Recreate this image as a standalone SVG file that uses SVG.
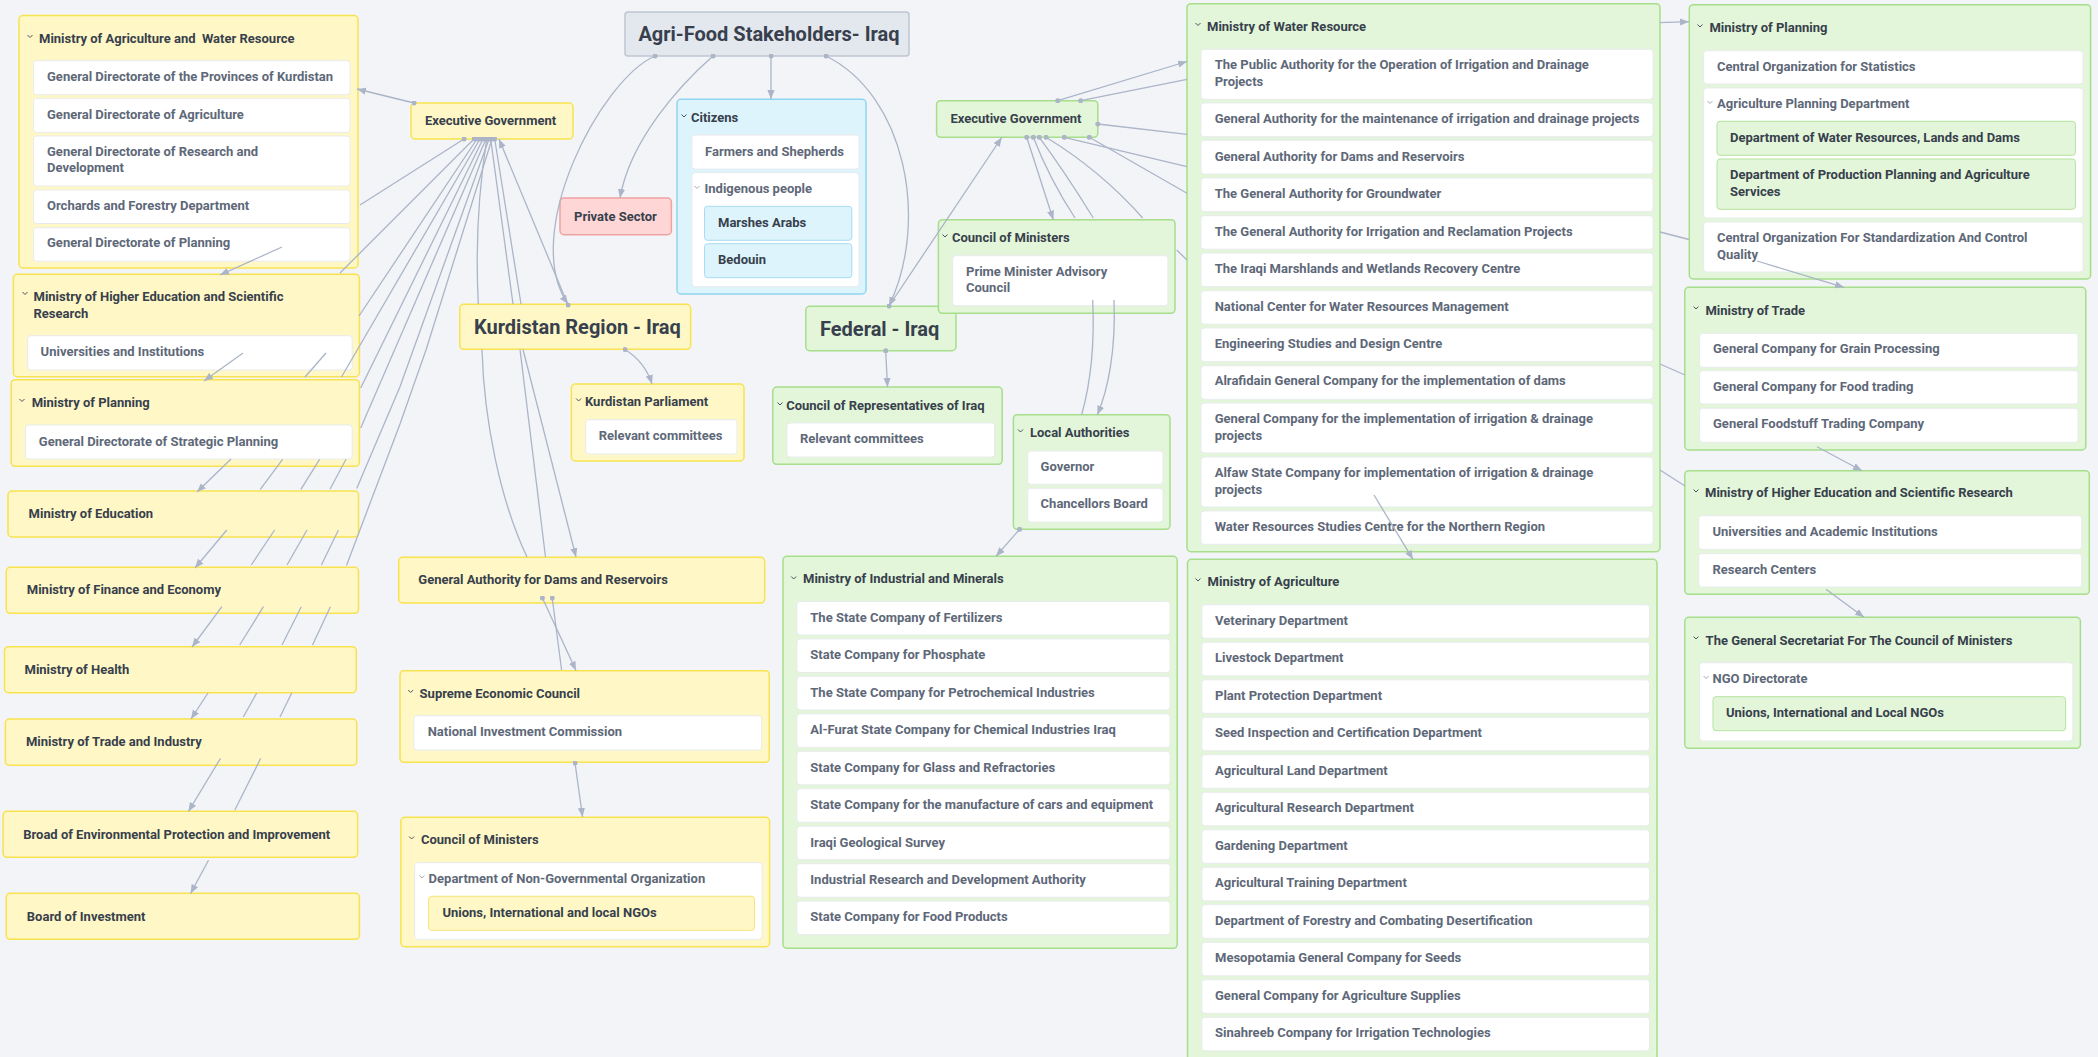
<svg xmlns="http://www.w3.org/2000/svg" width="2098" height="1057" viewBox="0 0 2098 1057">
<defs>
<style>
text{font-family:Roboto,"Liberation Sans",sans-serif;font-weight:700;font-size:13px}
.h{fill:#37404c}.i{fill:#5e6878}.big{font-size:20px;fill:#37404c}
.y{fill:#fff8c6;stroke:#f8e24e;stroke-width:1.5}
.g{fill:#e3f6d9;stroke:#a6de8b;stroke-width:1.5}
.b{fill:#ddf4fc;stroke:#8fd5f1;stroke-width:1.5}
.r{fill:#ffd6d6;stroke:#f0a1a1;stroke-width:1.5}
.t{fill:#e3e7ee;stroke:#bfc6d1;stroke-width:1.5}
.w{fill:#fff;stroke:#e8ebee;stroke-width:1}
.yi{fill:#fff8c6;stroke:#f6e37a;stroke-width:1}
.gi{fill:#e3f6d9;stroke:#b5e39f;stroke-width:1}
.bi{fill:#ddf4fc;stroke:#a6dcf1;stroke-width:1}
.ch{fill:none;stroke:#4b5361;stroke-width:1}
.cl{fill:none;stroke:#a3abb8;stroke-width:1}
.c{fill:none;stroke:#abb5c7;stroke-width:1.3}
.a{marker-end:url(#arr)}
.d{marker-start:url(#dot)}
</style>
<marker id="arr" viewBox="0 0 10 10" refX="10" refY="5" markerWidth="9" markerHeight="9" markerUnits="userSpaceOnUse" orient="auto"><path d="M0,1 L10,5 L0,9 z" fill="#abb5c7"/></marker>
<marker id="dot" viewBox="0 0 6 6" refX="3" refY="3" markerWidth="5" markerHeight="5" markerUnits="userSpaceOnUse"><circle cx="3" cy="3" r="3" fill="#abb5c7"/></marker>
</defs>
<rect x="0" y="0" width="2098" height="1057" fill="#f2f4f8"/>

<g id="nodes">
<g id="title"><rect class="t" x="625" y="12" width="284" height="44" rx="3"/><text class="big" x="638.4" y="41">Agri-Food Stakeholders- Iraq</text></g>

<g id="k-minagri"><rect class="y" x="19" y="15.5" width="339" height="252.5" rx="4"/><path class="ch" d="M27.5,35 l2.5,2.5 l2.5,-2.5"/><text class="h" x="39" y="43" xml:space="preserve">Ministry of Agriculture and  Water Resource</text>
<rect class="w" x="33.5" y="60.7" width="316.5" height="34" rx="3"/><text class="i" x="47" y="81.2">General Directorate of the Provinces of Kurdistan</text>
<rect class="w" x="33.5" y="98.3" width="316.5" height="34" rx="3"/><text class="i" x="47" y="118.8">General Directorate of Agriculture</text>
<rect class="w" x="33.5" y="136" width="316.5" height="50" rx="3"/><text class="i" x="47" y="156.2">General Directorate of Research and</text><text class="i" x="47" y="172.2">Development</text>
<rect class="w" x="33.5" y="190" width="316.5" height="33.5" rx="3"/><text class="i" x="47" y="209.8">Orchards and Forestry Department</text>
<rect class="w" x="33.5" y="227.7" width="316.5" height="33.5" rx="3"/><text class="i" x="47" y="247.2">General Directorate of Planning</text></g>

<g id="k-minhighered"><rect class="y" x="13.4" y="274.3" width="346" height="102.4" rx="4"/><path class="ch" d="M22.5,292 l2.5,2.5 l2.5,-2.5"/><text class="h" x="33.5" y="301.2">Ministry of Higher Education and Scientific</text><text class="h" x="33.5" y="317.5">Research</text>
<rect class="w" x="27.7" y="335.7" width="324.5" height="34.3" rx="3"/><text class="i" x="40.6" y="356">Universities and Institutions</text></g>

<g id="k-minplanning"><rect class="y" x="11.2" y="379.7" width="348.2" height="86.6" rx="4"/><path class="ch" d="M19.5,399 l2.5,2.5 l2.5,-2.5"/><text class="h" x="31.7" y="406.8">Ministry of Planning</text>
<rect class="w" x="25.4" y="425" width="326.8" height="34" rx="3"/><text class="i" x="38.8" y="445.5">General Directorate of Strategic Planning</text></g>

<g id="k-mineducation"><rect class="y" x="8" y="491" width="350.5" height="46" rx="4"/><text class="h" x="28.6" y="518.2">Ministry of Education</text></g>
<g id="k-minfinance"><rect class="y" x="6.25" y="567.3" width="352.25" height="46" rx="4"/><text class="h" x="26.8" y="594.2">Ministry of Finance and Economy</text></g>
<g id="k-minhealth"><rect class="y" x="4.5" y="646.7" width="351.75" height="46" rx="4"/><text class="h" x="24.5" y="673.8">Ministry of Health</text></g>
<g id="k-mintrade"><rect class="y" x="5.4" y="719" width="351.3" height="46.3" rx="4"/><text class="h" x="25.9" y="746.2">Ministry of Trade and Industry</text></g>
<g id="k-env"><rect class="y" x="3.1" y="811.3" width="354.5" height="46" rx="4"/><text class="h" x="23.2" y="838.5">Broad of Environmental Protection and Improvement</text></g>
<g id="k-invest"><rect class="y" x="6.25" y="893.3" width="353.15" height="46" rx="4"/><text class="h" x="26.8" y="920.5">Board of Investment</text></g>

<g id="k-execgov"><rect class="y" x="411" y="103" width="162" height="36" rx="4"/><text class="h" x="425" y="125.2">Executive Government</text></g>
<g id="private"><rect class="r" x="560" y="198" width="111.4" height="36.7" rx="4"/><text class="h" x="574" y="220.5">Private Sector</text></g>
<g id="kurdistan"><rect class="y" x="459.8" y="304.3" width="230.8" height="45" rx="4"/><text class="big" x="474" y="333.7">Kurdistan Region - Iraq</text></g>
<g id="k-parliament"><rect class="y" x="571.4" y="384" width="172.6" height="77" rx="4"/><path class="ch" d="M576.1,398.5 l2.5,2.5 l2.5,-2.5"/><text class="h" x="585" y="406.2">Kurdistan Parliament</text>
<rect class="w" x="585.7" y="419.7" width="151.3" height="34.3" rx="3"/><text class="i" x="598.7" y="440.2">Relevant committees</text></g>
<g id="k-genauth"><rect class="y" x="398.7" y="557.3" width="366" height="45.7" rx="4"/><text class="h" x="418.3" y="584.2">General Authority for Dams and Reservoirs</text></g>
<g id="k-supreme"><rect class="y" x="400" y="670.7" width="369.2" height="91.6" rx="4"/><path class="ch" d="M408.2,690 l2.5,2.5 l2.5,-2.5"/><text class="h" x="419.6" y="697.8">Supreme Economic Council</text>
<rect class="w" x="413.8" y="715.7" width="347.8" height="34.3" rx="3"/><text class="i" x="427.7" y="736.2">National Investment Commission</text></g>
<g id="k-council"><rect class="y" x="400.9" y="817.3" width="368.7" height="129.4" rx="4"/><path class="ch" d="M409.1,836.5 l2.5,2.5 l2.5,-2.5"/><text class="h" x="421" y="844.2">Council of Ministers</text>
<rect class="w" x="414.7" y="862.7" width="347.3" height="76.6" rx="3"/><path class="cl" d="M419.4,875.5 l2.5,2.5 l2.5,-2.5"/><text class="i" x="428.6" y="883.2">Department of Non-Governmental Organization</text>
<rect class="yi" x="428.6" y="896.3" width="325.9" height="34" rx="3"/><text class="h" x="442.4" y="916.8">Unions, International and local NGOs</text></g>

<g id="citizens"><rect class="b" x="677" y="99.3" width="189" height="194.7" rx="4"/><path class="ch" d="M681.5,114.5 l2.5,2.5 l2.5,-2.5"/><text class="h" x="691" y="121.5">Citizens</text>
<rect class="w" x="692" y="135" width="167" height="34" rx="3"/><text class="i" x="705" y="155.5">Farmers and Shepherds</text>
<rect class="w" x="692" y="172.7" width="167" height="114" rx="3"/><path class="cl" d="M694.5,186 l2.5,2.5 l2.5,-2.5"/><text class="i" x="704.5" y="193.2">Indigenous people</text>
<rect class="bi" x="704.5" y="206.3" width="147.3" height="34" rx="3"/><text class="h" x="718" y="226.8">Marshes Arabs</text>
<rect class="bi" x="704.5" y="243.7" width="147.3" height="34" rx="3"/><text class="h" x="718" y="264.2">Bedouin</text></g>

<g id="f-execgov"><rect class="g" x="936.6" y="100.7" width="161.2" height="36.6" rx="4"/><text class="h" x="950.4" y="122.8">Executive Government</text></g>
<g id="federal"><rect class="g" x="805.8" y="306.3" width="150.2" height="44.4" rx="4"/><text class="big" x="820" y="335.5">Federal - Iraq</text></g>
<g id="f-council"><rect class="g" x="938.4" y="219.7" width="236.6" height="93.6" rx="4"/><path class="ch" d="M942.5,234.5 l2.5,2.5 l2.5,-2.5"/><text class="h" x="952" y="241.8">Council of Ministers</text>
<rect class="w" x="952.7" y="255.7" width="215.2" height="50" rx="3"/><text class="i" x="966" y="275.5">Prime Minister Advisory</text><text class="i" x="966" y="291.8">Council</text></g>
<g id="f-reps"><rect class="g" x="772.8" y="387" width="229.4" height="77.3" rx="4"/><path class="ch" d="M777.5,402.5 l2.5,2.5 l2.5,-2.5"/><text class="h" x="786.2" y="409.5">Council of Representatives of Iraq</text>
<rect class="w" x="787" y="423" width="207.6" height="34" rx="3"/><text class="i" x="800" y="443.2">Relevant committees</text></g>
<g id="f-local"><rect class="g" x="1013.4" y="414.7" width="156.6" height="114.6" rx="4"/><path class="ch" d="M1018,429.5 l2.5,2.5 l2.5,-2.5"/><text class="h" x="1030" y="436.5">Local Authorities</text>
<rect class="w" x="1027.7" y="451" width="135.3" height="33.3" rx="3"/><text class="i" x="1040.6" y="470.5">Governor</text>
<rect class="w" x="1027.7" y="488.3" width="135.3" height="33.7" rx="3"/><text class="i" x="1040.6" y="508.2">Chancellors Board</text></g>

<g id="f-industrial"><rect class="g" x="783" y="556.3" width="394.2" height="392" rx="4"/><path class="ch" d="M791.2,576.5 l2.5,2.5 l2.5,-2.5"/><text class="h" x="803" y="583.2">Ministry of Industrial and Minerals</text>
<rect class="w" x="796.9" y="601.5" width="373.1" height="33.5" rx="3"/><text class="i" x="810.3" y="621.8">The State Company of Fertilizers</text>
<rect class="w" x="796.9" y="639" width="373.1" height="33.5" rx="3"/><text class="i" x="810.3" y="659.2">State Company for Phosphate</text>
<rect class="w" x="796.9" y="676.4" width="373.1" height="33.5" rx="3"/><text class="i" x="810.3" y="696.7">The State Company for Petrochemical Industries</text>
<rect class="w" x="796.9" y="713.9" width="373.1" height="33.5" rx="3"/><text class="i" x="810.3" y="734.1">Al-Furat State Company for Chemical Industries Iraq</text>
<rect class="w" x="796.9" y="751.3" width="373.1" height="33.5" rx="3"/><text class="i" x="810.3" y="771.6">State Company for Glass and Refractories</text>
<rect class="w" x="796.9" y="788.8" width="373.1" height="33.5" rx="3"/><text class="i" x="810.3" y="809">State Company for the manufacture of cars and equipment</text>
<rect class="w" x="796.9" y="826.2" width="373.1" height="33.5" rx="3"/><text class="i" x="810.3" y="846.5">Iraqi Geological Survey</text>
<rect class="w" x="796.9" y="863.7" width="373.1" height="33.5" rx="3"/><text class="i" x="810.3" y="884">Industrial Research and Development Authority</text>
<rect class="w" x="796.9" y="901.1" width="373.1" height="33.5" rx="3"/><text class="i" x="810.3" y="921.4">State Company for Food Products</text></g>

<g id="f-water"><rect class="g" x="1187" y="3.7" width="473" height="548" rx="4"/><path class="ch" d="M1195.5,23 l2.5,2.5 l2.5,-2.5"/><text class="h" x="1207" y="30.8">Ministry of Water Resource</text>
<rect class="w" x="1201" y="49.3" width="452" height="50" rx="3"/><text class="i" x="1214.7" y="69.2">The Public Authority for the Operation of Irrigation and Drainage</text><text class="i" x="1214.7" y="85.5">Projects</text>
<rect class="w" x="1201" y="103" width="452" height="33.7" rx="3"/><text class="i" x="1214.7" y="122.8">General Authority for the maintenance of irrigation and drainage projects</text>
<rect class="w" x="1201" y="140.3" width="452" height="33.7" rx="3"/><text class="i" x="1214.7" y="160.5">General Authority for Dams and Reservoirs</text>
<rect class="w" x="1201" y="178" width="452" height="33.7" rx="3"/><text class="i" x="1214.7" y="197.8">The General Authority for Groundwater</text>
<rect class="w" x="1201" y="215.7" width="452" height="33.5" rx="3"/><text class="i" x="1214.7" y="235.5">The General Authority for Irrigation and Reclamation Projects</text>
<rect class="w" x="1201" y="253" width="452" height="33.7" rx="3"/><text class="i" x="1214.7" y="272.8">The Iraqi Marshlands and Wetlands Recovery Centre</text>
<rect class="w" x="1201" y="290.7" width="452" height="33.5" rx="3"/><text class="i" x="1214.7" y="310.5">National Center for Water Resources Management</text>
<rect class="w" x="1201" y="328" width="452" height="33.7" rx="3"/><text class="i" x="1214.7" y="347.8">Engineering Studies and Design Centre</text>
<rect class="w" x="1201" y="365.7" width="452" height="33.5" rx="3"/><text class="i" x="1214.7" y="385.2">Alrafidain General Company for the implementation of dams</text>
<rect class="w" x="1201" y="403" width="452" height="50" rx="3"/><text class="i" x="1214.7" y="422.8">General Company for the implementation of irrigation &amp; drainage</text><text class="i" x="1214.7" y="439.5">projects</text>
<rect class="w" x="1201" y="457" width="452" height="50" rx="3"/><text class="i" x="1214.7" y="477.2">Alfaw State Company for implementation of irrigation &amp; drainage</text><text class="i" x="1214.7" y="493.8">projects</text>
<rect class="w" x="1201" y="511" width="452" height="33.3" rx="3"/><text class="i" x="1214.7" y="530.8">Water Resources Studies Centre for the Northern Region</text></g>

<g id="f-agri"><rect class="g" x="1187.5" y="559.3" width="469.5" height="510" rx="4"/><path class="ch" d="M1195.5,578.5 l2.5,2.5 l2.5,-2.5"/><text class="h" x="1207.6" y="586.2">Ministry of Agriculture</text>
<rect class="w" x="1201.8" y="604.8" width="447.7" height="33.5" rx="3"/><text class="i" x="1215" y="624.8">Veterinary Department</text>
<rect class="w" x="1201.8" y="642.3" width="447.7" height="33.5" rx="3"/><text class="i" x="1215" y="662.3">Livestock Department</text>
<rect class="w" x="1201.8" y="679.8" width="447.7" height="33.5" rx="3"/><text class="i" x="1215" y="699.8">Plant Protection Department</text>
<rect class="w" x="1201.8" y="717.3" width="447.7" height="33.5" rx="3"/><text class="i" x="1215" y="737.3">Seed Inspection and Certification Department</text>
<rect class="w" x="1201.8" y="754.8" width="447.7" height="33.5" rx="3"/><text class="i" x="1215" y="774.8">Agricultural Land Department</text>
<rect class="w" x="1201.8" y="792.3" width="447.7" height="33.5" rx="3"/><text class="i" x="1215" y="812.3">Agricultural Research Department</text>
<rect class="w" x="1201.8" y="829.8" width="447.7" height="33.5" rx="3"/><text class="i" x="1215" y="849.8">Gardening Department</text>
<rect class="w" x="1201.8" y="867.3" width="447.7" height="33.5" rx="3"/><text class="i" x="1215" y="887.3">Agricultural Training Department</text>
<rect class="w" x="1201.8" y="904.8" width="447.7" height="33.5" rx="3"/><text class="i" x="1215" y="924.8">Department of Forestry and Combating Desertification</text>
<rect class="w" x="1201.8" y="942.3" width="447.7" height="33.5" rx="3"/><text class="i" x="1215" y="962.3">Mesopotamia General Company for Seeds</text>
<rect class="w" x="1201.8" y="979.8" width="447.7" height="33.5" rx="3"/><text class="i" x="1215" y="999.8">General Company for Agriculture Supplies</text>
<rect class="w" x="1201.8" y="1017.3" width="447.7" height="33.5" rx="3"/><text class="i" x="1215" y="1037.3">Sinahreeb Company for Irrigation Technologies</text></g>

<g id="f-planning"><rect class="g" x="1689.3" y="4.7" width="401.3" height="274.3" rx="4"/><path class="ch" d="M1697.5,24.5 l2.5,2.5 l2.5,-2.5"/><text class="h" x="1709.4" y="32.2">Ministry of Planning</text>
<rect class="w" x="1703.6" y="50.7" width="379.4" height="33.3" rx="3"/><text class="i" x="1717" y="70.5">Central Organization for Statistics</text>
<rect class="w" x="1703.6" y="88" width="379.4" height="130" rx="3"/><path class="cl" d="M1707.5,101 l2.5,2.5 l2.5,-2.5"/><text class="i" x="1717" y="107.8">Agriculture Planning Department</text>
<rect class="gi" x="1717" y="121.3" width="358.4" height="34" rx="3"/><text class="h" x="1730" y="141.8">Department of Water Resources, Lands and Dams</text>
<rect class="gi" x="1717" y="159" width="358.4" height="50.3" rx="3"/><text class="h" x="1730" y="179.2">Department of Production Planning and Agriculture</text><text class="h" x="1730" y="195.8">Services</text>
<rect class="w" x="1703.6" y="222" width="379.4" height="50" rx="3"/><text class="i" x="1717" y="241.8">Central Organization For Standardization And Control</text><text class="i" x="1717" y="258.5">Quality</text></g>

<g id="f-trade"><rect class="g" x="1684.8" y="287.3" width="401" height="162.7" rx="4"/><path class="ch" d="M1693.5,306.5 l2.5,2.5 l2.5,-2.5"/><text class="h" x="1705.4" y="314.5">Ministry of Trade</text>
<rect class="w" x="1699.6" y="333.3" width="378.4" height="34" rx="3"/><text class="i" x="1713" y="353.2">General Company for Grain Processing</text>
<rect class="w" x="1699.6" y="370.7" width="378.4" height="33.3" rx="3"/><text class="i" x="1713" y="390.5">General Company for Food trading</text>
<rect class="w" x="1699.6" y="408.3" width="378.4" height="34" rx="3"/><text class="i" x="1713" y="428.2">General Foodstuff Trading Company</text></g>

<g id="f-highered"><rect class="g" x="1684.8" y="470.7" width="404.5" height="123.6" rx="4"/><path class="ch" d="M1693.5,489.5 l2.5,2.5 l2.5,-2.5"/><text class="h" x="1705" y="497.2">Ministry of Higher Education and Scientific Research</text>
<rect class="w" x="1698.7" y="515.7" width="383" height="33.6" rx="3"/><text class="i" x="1712.5" y="535.8">Universities and Academic Institutions</text>
<rect class="w" x="1698.7" y="553.7" width="383" height="33.3" rx="3"/><text class="i" x="1712.5" y="573.5">Research Centers</text></g>

<g id="f-gensec"><rect class="g" x="1684.8" y="617.3" width="395.6" height="131" rx="4"/><path class="ch" d="M1693.5,636.5 l2.5,2.5 l2.5,-2.5"/><text class="h" x="1705.6" y="644.5">The General Secretariat For The Council of Ministers</text>
<rect class="w" x="1699.6" y="662.7" width="373.2" height="78.3" rx="3"/><path class="cl" d="M1703.5,676 l2.5,2.5 l2.5,-2.5"/><text class="i" x="1712.5" y="683.2">NGO Directorate</text>
<rect class="gi" x="1713" y="696.7" width="352.6" height="34" rx="3"/><text class="h" x="1726" y="716.8">Unions, International and Local NGOs</text></g>
</g>

<g id="connectors">
<path class="c d a" d="M414,103 L357,89"/>
<path class="c d" d="M464,139 L360,205"/>
<path class="c a" d="M282,247 L220,275"/>
<path class="c d" d="M474,139 L340,273"/>
<path class="c a" d="M243,353 L204,381"/>
<path class="c d" d="M477,139 L359,316"/>
<path class="c" d="M326,353 L305,377"/>
<path class="c a" d="M231,459 L197,492"/>
<path class="c d" d="M480,139 L341.5,377"/>
<path class="c" d="M282.6,459.3 L260.3,489.3"/>
<path class="c a" d="M226.8,530 L195,568"/>
<path class="c d" d="M483,139 L360.7,388"/>
<path class="c" d="M319.6,459.3 L300.9,489.3"/>
<path class="c" d="M274.6,530 L251.3,565"/>
<path class="c a" d="M221.9,606.7 L192,647"/>
<path class="c d" d="M486,139 L360.7,428"/>
<path class="c" d="M346,459.3 L330,489.3"/>
<path class="c" d="M307,530 L287,565"/>
<path class="c" d="M263.4,606.7 L239.7,645"/>
<path class="c a" d="M208,693 L191,719"/>
<path class="c d" d="M489,139 L400,386.8 L356.7,488.6"/>
<path class="c" d="M338.4,530 L321.4,565"/>
<path class="c" d="M301.3,606.7 L282,645"/>
<path class="c" d="M256.7,693 L243.3,717"/>
<path class="c a" d="M220.5,758.3 L188.4,811.5"/>
<path class="c d" d="M492,139 L426,350 L400,424 L346.5,565.5"/>
<path class="c" d="M330.4,606.7 L312.5,645"/>
<path class="c" d="M291.7,693 L280,717"/>
<path class="c" d="M260.7,758.3 L234.8,810"/>
<path class="c a" d="M208.5,860.3 L190.6,893.5"/>

<path class="c d a" d="M568,305 L499,139"/>
<path class="c d a" d="M655,56 C600,80 520,235 568,304"/>
<path class="c d a" d="M713,56 C680,85 630,140 620,198"/>
<path class="c d a" d="M771,56 L771,99"/>
<path class="c d a" d="M826,56 C905,95 930,220 889,306"/>
<path class="c d" d="M486.7,139 Q474,220 478.3,304"/>
<path class="c" d="M482,349.5 C484,420 500,500 527,557"/>
<path class="c d" d="M490.7,139 L513,304"/>
<path class="c" d="M520,349.5 L545.5,557"/>
<path class="c d" d="M494.7,139 L521,304"/>
<path class="c a" d="M523,349.5 L576,557"/>
<path class="c d a" d="M625,349.5 Q645,362 652,384"/>
<path class="c d a" d="M542.4,598 L576,670.5"/>
<path class="c d" d="M552.2,598 L561.6,670"/>
<path class="c d a" d="M575,763 L582.6,817"/>

<path class="c d a" d="M889,306 L1001.7,137.5"/>
<path class="c d a" d="M885.7,350.7 L887.5,387"/>
<path class="c d a" d="M1026.7,137.3 L1053.3,219.7"/>
<path class="c d" d="M1033.3,137.3 Q1050,180 1075,218"/>
<path class="c d" d="M1039.3,137.3 Q1065,172 1093.3,218"/>
<path class="c d" d="M1046,137.3 Q1100,170 1142.7,218"/>
<path class="c" d="M1176.7,250 L1187,260"/>
<path class="c" d="M1092.7,300 C1095,350 1090,385 1081.7,414.7"/>
<path class="c a" d="M1114,300 C1116,350 1108,390 1097.3,414.7"/>
<path class="c d a" d="M1057.7,100.7 L1187,61.5"/>
<path class="c d" d="M1080.7,100.7 L1187,79.3"/>
<path class="c d" d="M1097.8,124 L1187,134.3"/>
<path class="c d" d="M1064.3,137.3 L1187,166.7"/>
<path class="c d" d="M1089.3,137.3 L1187,193.3"/>
<path class="c d a" d="M1019.6,529.3 L996,556.3"/>
<path class="c a" d="M1660,22.7 L1689,21.7"/>
<path class="c" d="M1660,232 L1689,239.5"/>
<path class="c a" d="M1757,261 L1844,287.3"/>
<path class="c" d="M1660,364 L1685,375"/>
<path class="c a" d="M1817,446.7 L1862,470.7"/>
<path class="c" d="M1660,470 L1685,486"/>
<path class="c a" d="M1826,589.3 L1864,617.3"/>
<path class="c a" d="M1374,495 L1413,559.3"/>
</g>
</svg>
